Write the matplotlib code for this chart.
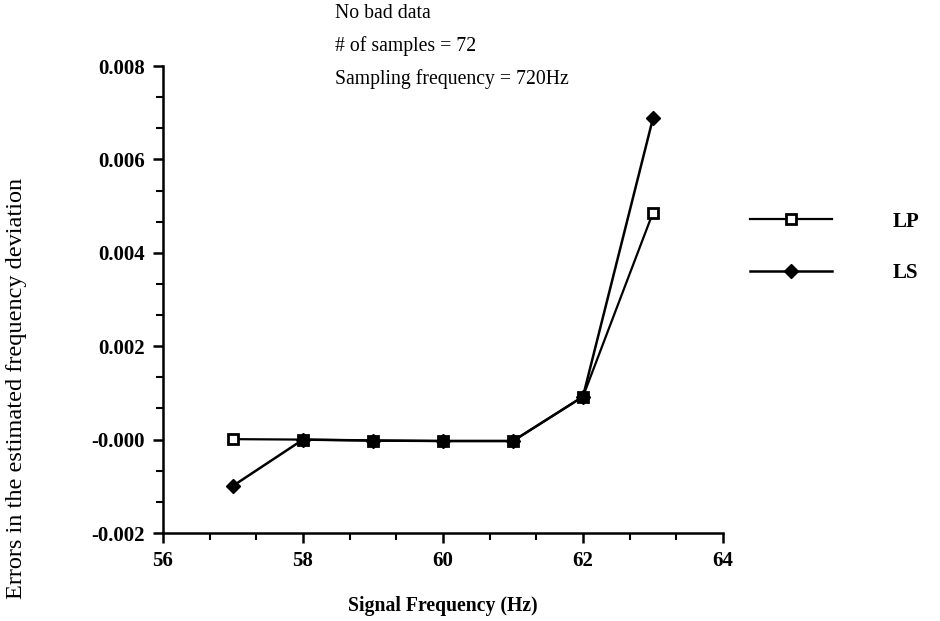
import matplotlib
matplotlib.use('Agg')
import matplotlib.pyplot as plt
from matplotlib.ticker import MultipleLocator

# data
freq = [57, 58, 59, 60, 61, 62, 63]
err_lp = [0.00001, 0.0, -0.00002, -0.00003, -0.00003, 0.00092, 0.00486]
err_ls = [-0.00099, 0.0, -0.00002, -0.00003, -0.00003, 0.00092, 0.00688]
x_ticks = [56, 58, 60, 62, 64]
y_ticks = [-0.002, 0.0, 0.002, 0.004, 0.006, 0.008]
y_tick_labels = ['-0.002', '-0.000', '0.002', '0.004', '0.006', '0.008']
notes = ['No bad data', '# of samples = 72', 'Sampling frequency = 720Hz']

plt.rcParams['font.family'] = ['Liberation Serif', 'DejaVu Serif']

fig = plt.figure(figsize=(9.4, 6.21), dpi=100)
ax = fig.add_axes([0.1734, 0.1417, 0.5957, 0.7520])

ax.plot(freq, err_lp, '-', color='black', lw=1.6, marker='s', ms=7,
        mfc='white', mec='black', mew=2, label='LP', zorder=2)
ax.plot(freq, err_ls, '-', color='black', lw=1.8, marker='D', ms=7,
        mfc='black', mec='black', label='LS', zorder=3)

ax.set_xlim(56, 64)
ax.set_ylim(-0.002, 0.008)
ax.set_xticks(x_ticks)
ax.set_xticklabels([str(t) for t in x_ticks])
ax.set_yticks(y_ticks)
ax.set_yticklabels(y_tick_labels)
ax.xaxis.set_minor_locator(MultipleLocator(2 / 3))
ax.yaxis.set_minor_locator(MultipleLocator(0.002 / 3))

for s in ['top', 'right']:
    ax.spines[s].set_visible(False)
for s in ['left', 'bottom']:
    ax.spines[s].set_linewidth(1.8)

ax.tick_params(which='major', direction='out', length=7, width=1.8,
               labelsize=15, pad=6)
ax.tick_params(which='minor', direction='out', length=5, width=1.5)
for lab in ax.get_xticklabels() + ax.get_yticklabels():
    lab.set_fontweight('bold')

ax.set_xlabel('Signal Frequency (Hz)', fontsize=14.2, fontweight='bold', labelpad=18)
fig.text(0.018, 1 - 388 / 621, 'Errors in the estimated frequency deviation',
         rotation=90, ha='center', va='center', fontsize=17.5)

for i, note in enumerate(notes):
    fig.text(0.356, 1 - (14 + 32.5 * i) / 621, note, ha='left', va='center',
             fontsize=14.2)

leg = fig.legend(loc='upper left', bbox_to_anchor=(0.798, 0.659), frameon=False,
                 handlelength=3.95, handletextpad=2.9, labelspacing=1.5,
                 borderpad=0, borderaxespad=0, fontsize=15)
for t in leg.get_texts():
    t.set_fontweight('bold')

fig.savefig('out.png', dpi=100)
